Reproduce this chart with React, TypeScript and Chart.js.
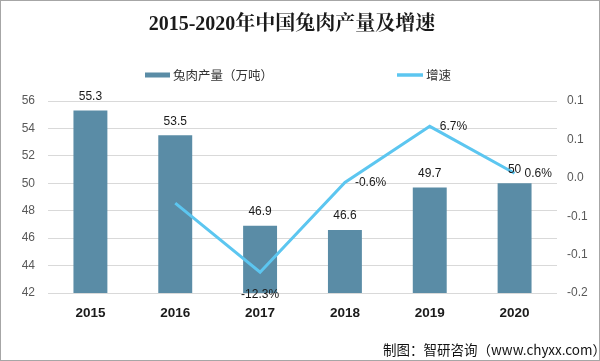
import React, { useEffect, useRef } from 'react';
import { Chart, registerables } from 'chart.js';

Chart.register(...registerables);

const years = ['2015', '2016', '2017', '2018', '2019', '2020'];
const outputValues = [55.3, 53.5, 46.9, 46.6, 49.7, 50];
const growthValues: (number | null)[] = [null, -0.033, -0.123, -0.006, 0.067, 0.006];
const growthLabels = ['', '', '-12.3%', '-0.6%', '6.7%', '0.6%'];
const leftTickMin = 42;
const leftTickMax = 56;
const leftTickStep = 2;
const rightTickMin = -0.15;
const rightTickMax = 0.1;
const rightTickStep = 0.05;
const rightTickLabels = ['-0.2', '-0.1', '-0.1', '0.0', '0.1', '0.1'];
const titleText = '2015-2020年中国兔肉产量及增速';
const barLegend = '兔肉产量（万吨）';
const lineLegend = '增速';
const sourceText = '制图：智研咨询（www.chyxx.com）';

const BAR_COLOR = '#5a8ca6';
const LINE_COLOR = '#5cc6f0';
const SANS = '"Liberation Sans", Arial, "Noto Sans CJK SC", sans-serif';
const CJK = '"Noto Sans CJK SC", "Liberation Sans", sans-serif';

const decor = {
  id: 'decor',
  beforeDraw(chart: any) {
    const { ctx, width, height } = chart;
    ctx.save();
    ctx.fillStyle = '#ffffff';
    ctx.fillRect(0, 0, width, height);
    ctx.restore();
  },
  afterDatasetsDraw(chart: any) {
    const ctx = chart.ctx;
    ctx.save();
    ctx.font = '12px ' + SANS;
    ctx.fillStyle = '#1a1a1a';
    ctx.textBaseline = 'middle';
    const barMeta = chart.getDatasetMeta(0);
    barMeta.data.forEach((el: any, i: number) => {
      ctx.textAlign = 'center';
      ctx.fillText(String(outputValues[i]), el.x, el.y - 14);
    });
    const lineMeta = chart.getDatasetMeta(1);
    const valid = growthValues.filter((v) => v !== null) as number[];
    const minV = Math.min(...valid);
    lineMeta.data.forEach((el: any, i: number) => {
      const t = growthLabels[i];
      if (!t) return;
      const v = growthValues[i];
      if (v === minV) {
        ctx.textAlign = 'center';
        ctx.fillText(t, el.x, el.y + 22);
      } else {
        ctx.textAlign = 'left';
        ctx.fillText(t, el.x + 10, el.y);
      }
    });
    ctx.restore();
  },
  afterDraw(chart: any) {
    const { ctx, width, height } = chart;
    ctx.save();
    // title
    ctx.font = 'bold 20px "Liberation Serif", "Noto Serif CJK SC", "Noto Sans CJK SC", serif';
    ctx.fillStyle = '#1a1a1a';
    ctx.textAlign = 'center';
    ctx.textBaseline = 'middle';
    ctx.fillText(titleText, 292, 25);
    // legend
    ctx.fillStyle = BAR_COLOR;
    ctx.fillRect(145, 72.5, 25, 5);
    ctx.font = '12.5px ' + CJK;
    ctx.fillStyle = '#333333';
    ctx.textAlign = 'left';
    ctx.fillText(barLegend, 173, 75);
    ctx.strokeStyle = LINE_COLOR;
    ctx.lineWidth = 3.5;
    ctx.beginPath();
    ctx.moveTo(397, 75);
    ctx.lineTo(423, 75);
    ctx.stroke();
    ctx.fillText(lineLegend, 426, 75);
    // footer
    ctx.font = '13.5px ' + CJK;
    ctx.fillStyle = '#111111';
    ctx.textAlign = 'right';
    ctx.fillText(sourceText, 606, 350);
    // border
    ctx.strokeStyle = '#a6a6a6';
    ctx.lineWidth = 1;
    ctx.strokeRect(0.5, 0.5, width - 1, height - 1);
    ctx.restore();
  },
};

export default function App() {
  const ref = useRef<HTMLCanvasElement | null>(null);
  useEffect(() => {
    document.body.style.margin = '0';
    const canvas = ref.current;
    if (!canvas) return;
    const chart = new Chart(canvas, {
      data: {
        labels: years,
        datasets: [
          {
            type: 'bar',
            label: barLegend,
            data: outputValues,
            backgroundColor: BAR_COLOR,
            categoryPercentage: 0.4,
            barPercentage: 1,
            yAxisID: 'y',
            order: 2,
          },
          {
            type: 'line',
            label: lineLegend,
            data: growthValues,
            borderColor: LINE_COLOR,
            backgroundColor: LINE_COLOR,
            borderWidth: 3,
            pointRadius: 0,
            tension: 0,
            yAxisID: 'y1',
            order: 1,
          },
        ],
      } as any,
      options: {
        responsive: false,
        animation: false,
        layout: { padding: { top: 101, left: 0, right: 0, bottom: 0 } },
        plugins: {
          legend: { display: false },
          tooltip: { enabled: false },
          title: { display: false },
        },
        scales: {
          x: {
            grid: { display: false, drawTicks: false },
            border: { display: false },
            ticks: {
              color: '#1a1a1a',
              font: { size: 13.5, weight: 'bold', family: SANS },
              padding: 12,
            },
            afterFit(s: any) {
              s.height = 68;
            },
          },
          y: {
            position: 'left',
            min: leftTickMin,
            max: leftTickMax,
            ticks: {
              stepSize: leftTickStep,
              color: '#595959',
              font: { size: 12, family: SANS },
              padding: 13,
            },
            grid: { color: '#d9d9d9', drawTicks: false },
            border: { display: false },
            afterFit(s: any) {
              s.width = 48;
            },
          },
          y1: {
            position: 'right',
            min: rightTickMin,
            max: rightTickMax,
            ticks: {
              stepSize: rightTickStep,
              color: '#595959',
              font: { size: 12, family: SANS },
              padding: 10,
              callback: (_v: any, i: number) => rightTickLabels[i],
            },
            grid: { display: false, drawTicks: false },
            border: { display: false },
            afterFit(s: any) {
              s.width = 43;
            },
          },
        },
      } as any,
      plugins: [decor],
    });
    return () => chart.destroy();
  }, []);
  return (
    <div style={{ width: 600, height: 361, position: 'relative' }}>
      <canvas ref={ref} width={600} height={361} style={{ display: 'block' }} />
    </div>
  );
}
